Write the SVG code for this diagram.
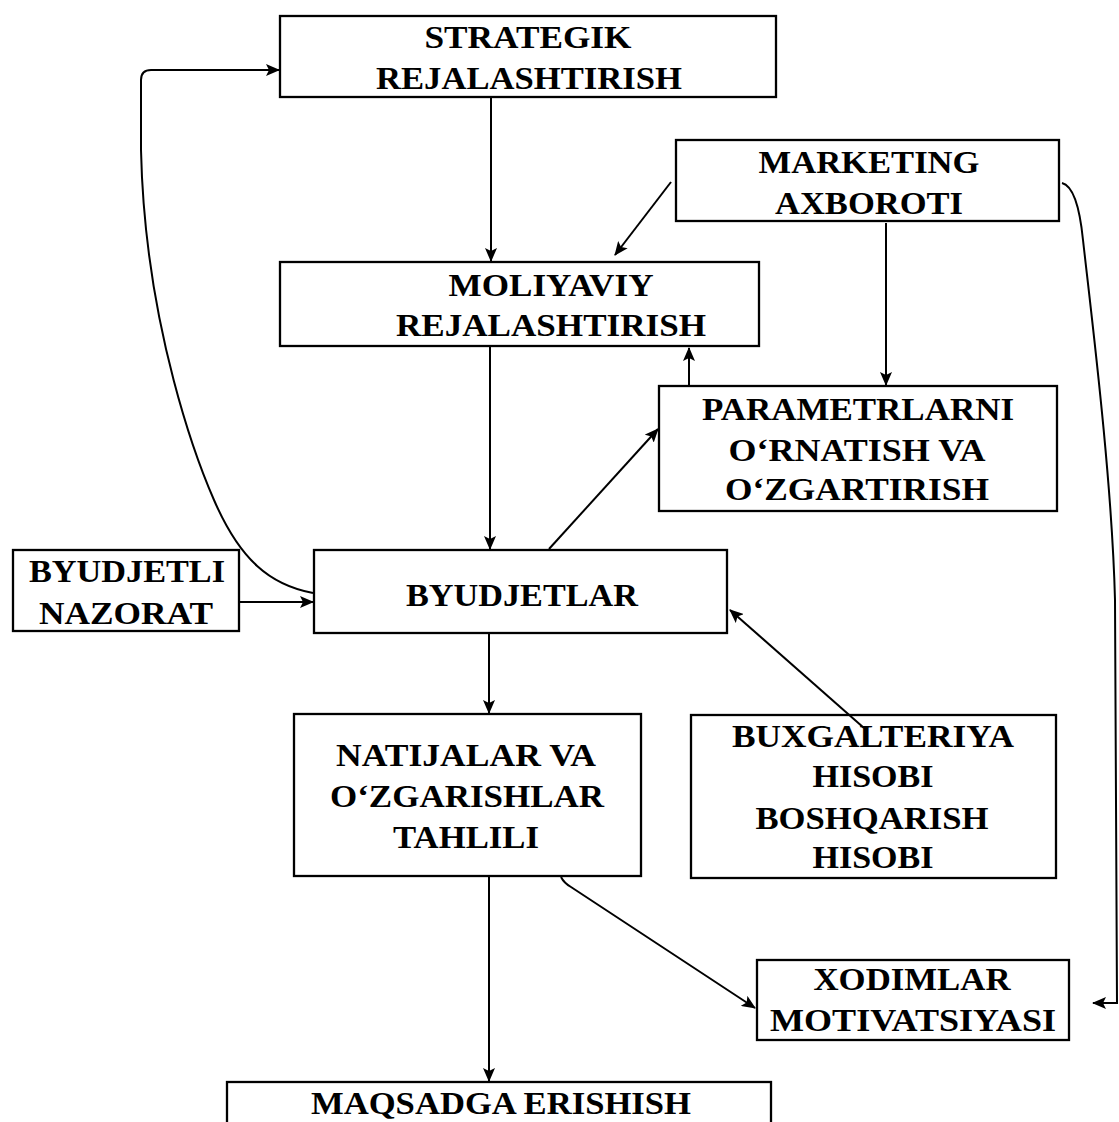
<svg xmlns="http://www.w3.org/2000/svg" width="1119" height="1122" viewBox="0 0 1119 1122">
<defs>
<style>
.box{fill:none;stroke:#000;stroke-width:2.3}
.t{font-family:"Liberation Serif","Times New Roman",serif;font-weight:bold;font-size:32px;fill:#000;text-anchor:middle}
.c{fill:none;stroke:#000;stroke-width:2}
</style>
<marker id="ah" viewBox="0 0 14 12" refX="13" refY="6" markerWidth="14" markerHeight="12" markerUnits="userSpaceOnUse" orient="auto">
<path d="M0,0 L14,6 L0,12 L3,6 z" fill="#000"/>
</marker>
</defs>
<rect width="1119" height="1122" fill="#fff"/>
<g id="strategik"><rect class="box" x="280" y="16" width="496" height="81"/>
<text class="t" x="528" y="48" textLength="207" lengthAdjust="spacingAndGlyphs">STRATEGIK</text>
<text class="t" x="529" y="89" textLength="306" lengthAdjust="spacingAndGlyphs">REJALASHTIRISH</text></g>
<g id="marketing"><rect class="box" x="676" y="140" width="383" height="81"/>
<text class="t" x="869" y="173" textLength="221" lengthAdjust="spacingAndGlyphs">MARKETING</text>
<text class="t" x="869" y="214" textLength="188" lengthAdjust="spacingAndGlyphs">AXBOROTI</text></g>
<g id="moliyaviy"><rect class="box" x="280" y="262" width="479" height="84"/>
<text class="t" x="551" y="296" textLength="205" lengthAdjust="spacingAndGlyphs">MOLIYAVIY</text>
<text class="t" x="551" y="336" textLength="310" lengthAdjust="spacingAndGlyphs">REJALASHTIRISH</text></g>
<g id="parametrlar"><rect class="box" x="659" y="386" width="398" height="125"/>
<text class="t" x="858" y="420" textLength="312" lengthAdjust="spacingAndGlyphs">PARAMETRLARNI</text>
<text class="t" x="857" y="461" textLength="257" lengthAdjust="spacingAndGlyphs">O‘RNATISH VA</text>
<text class="t" x="857" y="500" textLength="264" lengthAdjust="spacingAndGlyphs">O‘ZGARTIRISH</text></g>
<g id="nazorat"><rect class="box" x="13" y="550" width="226" height="81"/>
<text class="t" x="127" y="582" textLength="196" lengthAdjust="spacingAndGlyphs">BYUDJETLI</text>
<text class="t" x="126" y="624" textLength="174" lengthAdjust="spacingAndGlyphs">NAZORAT</text></g>
<g id="byudjetlar"><rect class="box" x="314" y="550" width="413" height="83"/>
<text class="t" x="522" y="606" textLength="232" lengthAdjust="spacingAndGlyphs">BYUDJETLAR</text></g>
<g id="natijalar"><rect class="box" x="294" y="714" width="347" height="162"/>
<text class="t" x="466" y="766" textLength="260" lengthAdjust="spacingAndGlyphs">NATIJALAR VA</text>
<text class="t" x="467" y="807" textLength="274" lengthAdjust="spacingAndGlyphs">O‘ZGARISHLAR</text>
<text class="t" x="466" y="848" textLength="146" lengthAdjust="spacingAndGlyphs">TAHLILI</text></g>
<g id="buxgalteriya"><rect class="box" x="691" y="715" width="365" height="163"/>
<text class="t" x="873" y="747" textLength="282" lengthAdjust="spacingAndGlyphs">BUXGALTERIYA</text>
<text class="t" x="873" y="787" textLength="121" lengthAdjust="spacingAndGlyphs">HISOBI</text>
<text class="t" x="872" y="829" textLength="233" lengthAdjust="spacingAndGlyphs">BOSHQARISH</text>
<text class="t" x="873" y="868" textLength="121" lengthAdjust="spacingAndGlyphs">HISOBI</text></g>
<g id="xodimlar"><rect class="box" x="757" y="960" width="312" height="80"/>
<text class="t" x="912" y="990" textLength="197" lengthAdjust="spacingAndGlyphs">XODIMLAR</text>
<text class="t" x="913" y="1031" textLength="286" lengthAdjust="spacingAndGlyphs">MOTIVATSIYASI</text></g>
<g id="maqsad"><rect class="box" x="227" y="1082" width="544" height="60"/>
<text class="t" x="501" y="1114" textLength="380" lengthAdjust="spacingAndGlyphs">MAQSADGA ERISHISH</text></g>
<g id="connectors">
<path class="c" d="M491,98 V261" marker-end="url(#ah)"/>
<path class="c" d="M313,593 C270,585 240,560 214,500 C200,468 145,330 141,150 L141,80 Q141,70 151,70 L279,70" marker-end="url(#ah)"/>
<path class="c" d="M671,182 L615,255" marker-end="url(#ah)"/>
<path class="c" d="M886,223 V385" marker-end="url(#ah)"/>
<path class="c" d="M689,386 V348" marker-end="url(#ah)"/>
<path class="c" d="M490,347 V549" marker-end="url(#ah)"/>
<path class="c" d="M549,549 L658,429" marker-end="url(#ah)"/>
<path class="c" d="M240,602 H313" marker-end="url(#ah)"/>
<path class="c" d="M489,634 V713" marker-end="url(#ah)"/>
<path class="c" d="M864,728 L730,610" marker-end="url(#ah)"/>
<path class="c" d="M489,877 V1081" marker-end="url(#ah)"/>
<path class="c" d="M561,877 Q564,883 571,887 L755,1008" marker-end="url(#ah)"/>
<path class="c" d="M1062,183 C1074,186 1080,210 1083,240 C1092,320 1112,480 1115,600 L1117,1003 H1093" marker-end="url(#ah)"/>
</g>
</svg>
